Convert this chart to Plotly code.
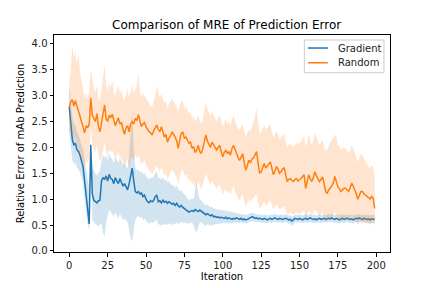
import plotly.graph_objects as go

iterations = list(range(200))
series_names = ["Gradient", "Random"]

gradient_mean = [
    2.78, 2.45, 2.15, 2.05, 2.08, 1.95, 1.92, 1.85, 1.72, 1.62,
    1.35, 1.05, 0.75, 0.52, 2.05, 1.10, 0.98, 0.95, 0.93, 0.97,
    0.98, 1.35, 1.42, 1.38, 1.45, 1.35, 1.48, 1.40, 1.38, 1.30,
    1.42, 1.35, 1.30, 1.40, 1.32, 1.25, 1.30, 1.22, 1.18, 1.30,
    1.45, 1.60, 1.35, 1.15, 1.12, 1.15, 1.10, 1.12, 1.05, 1.08,
    1.00, 0.95, 0.93, 0.97, 0.95, 0.98, 1.05, 1.08, 0.95, 0.97,
    0.93, 0.98, 0.94, 0.96, 0.92, 0.95, 0.93, 0.90, 0.92, 0.88,
    0.92, 0.87, 0.85, 0.88, 0.84, 0.82, 0.80, 0.78, 0.75, 0.77,
    0.78, 0.76, 0.80, 0.78, 0.76, 0.79, 0.77, 0.75, 0.72, 0.70,
    0.72, 0.69, 0.68, 0.70, 0.66, 0.67, 0.65, 0.66, 0.64, 0.65,
    0.64, 0.63, 0.65, 0.62, 0.64, 0.63, 0.61, 0.63, 0.62, 0.64,
    0.62, 0.61, 0.63, 0.60, 0.62, 0.60, 0.61, 0.63, 0.64, 0.66,
    0.65, 0.63, 0.64, 0.62, 0.63, 0.62, 0.61, 0.63, 0.62, 0.60,
    0.62, 0.63, 0.61, 0.62, 0.64, 0.62, 0.61, 0.63, 0.62, 0.61,
    0.62, 0.63, 0.62, 0.60, 0.61, 0.58, 0.60, 0.63, 0.62, 0.61,
    0.63, 0.62, 0.60, 0.62, 0.63, 0.61, 0.62, 0.64, 0.62, 0.61,
    0.62, 0.60, 0.62, 0.63, 0.61, 0.62, 0.63, 0.61, 0.62, 0.63,
    0.62, 0.64, 0.62, 0.61, 0.63, 0.62, 0.60, 0.62, 0.63, 0.61,
    0.62, 0.63, 0.62, 0.61, 0.62, 0.60, 0.62, 0.63, 0.62, 0.64,
    0.62, 0.61, 0.63, 0.62, 0.61, 0.62, 0.60, 0.62, 0.61, 0.62,
]

gradient_upper = [
    3.20, 2.90, 2.60, 2.45, 2.43, 2.30, 2.25, 2.15, 2.05, 1.95,
    1.75, 1.55, 1.35, 1.20, 2.10, 1.65, 1.55, 1.50, 1.45, 1.50,
    1.55, 1.75, 1.85, 1.80, 1.85, 1.75, 1.90, 1.80, 1.78, 1.70,
    1.82, 1.75, 1.70, 1.80, 1.72, 1.65, 1.70, 1.62, 1.60, 1.85,
    2.30, 2.70, 2.00, 1.60, 1.55, 1.58, 1.52, 1.55, 1.48, 1.50,
    1.45, 1.40, 1.38, 1.42, 1.40, 1.45, 1.52, 1.55, 1.40, 1.42,
    1.38, 1.42, 1.36, 1.38, 1.32, 1.35, 1.30, 1.26, 1.28, 1.22,
    1.26, 1.20, 1.15, 1.18, 1.12, 1.10, 1.06, 1.03, 0.98, 1.00,
    1.02, 1.00, 1.15, 1.32, 1.10, 1.00, 0.97, 0.94, 0.90, 0.88,
    0.90, 0.86, 0.84, 0.86, 0.82, 0.82, 0.80, 0.81, 0.78, 0.80,
    0.78, 0.79, 0.76, 0.78, 0.75, 0.77, 0.74, 0.76, 0.73, 0.74,
    0.72, 0.71, 0.72, 0.70, 0.71, 0.69, 0.70, 0.71, 0.72, 0.74,
    0.73, 0.72, 0.71, 0.70, 0.71, 0.70, 0.69, 0.70, 0.70, 0.68,
    0.70, 0.71, 0.69, 0.70, 0.72, 0.70, 0.69, 0.70, 0.70, 0.69,
    0.70, 0.71, 0.70, 0.68, 0.69, 0.66, 0.68, 0.70, 0.70, 0.69,
    0.71, 0.70, 0.68, 0.70, 0.71, 0.69, 0.70, 0.72, 0.70, 0.69,
    0.70, 0.68, 0.70, 0.71, 0.69, 0.70, 0.71, 0.69, 0.70, 0.71,
    0.70, 0.72, 0.70, 0.69, 0.71, 0.70, 0.68, 0.70, 0.71, 0.69,
    0.70, 0.71, 0.70, 0.69, 0.70, 0.68, 0.70, 0.71, 0.70, 0.72,
    0.70, 0.69, 0.71, 0.70, 0.69, 0.70, 0.68, 0.70, 0.69, 0.70,
]

gradient_lower = [
    2.30, 2.00, 1.75, 1.68, 1.70, 1.60, 1.58, 1.52, 1.42, 1.30,
    1.00, 0.70, 0.50, 0.42, 1.95, 0.60, 0.55, 0.52, 0.50, 0.48,
    0.50, 0.55, 0.35, 0.28, 0.55, 0.70, 0.80, 0.75, 0.72, 0.65,
    0.75, 0.68, 0.62, 0.72, 0.66, 0.60, 0.62, 0.58, 0.56, 0.40,
    0.25, 0.18, 0.45, 0.60, 0.65, 0.68, 0.64, 0.66, 0.60, 0.62,
    0.58, 0.55, 0.52, 0.56, 0.54, 0.55, 0.58, 0.60, 0.50, 0.52,
    0.48, 0.52, 0.50, 0.52, 0.50, 0.53, 0.52, 0.50, 0.53, 0.52,
    0.55, 0.52, 0.54, 0.56, 0.55, 0.54, 0.55, 0.54, 0.52, 0.55,
    0.54, 0.50, 0.40, 0.36, 0.45, 0.55, 0.55, 0.53, 0.50, 0.48,
    0.52, 0.50, 0.48, 0.50, 0.50, 0.52, 0.52, 0.53, 0.52, 0.53,
    0.54, 0.53, 0.55, 0.52, 0.54, 0.54, 0.53, 0.55, 0.54, 0.56,
    0.55, 0.54, 0.56, 0.53, 0.55, 0.53, 0.54, 0.56, 0.57, 0.58,
    0.57, 0.56, 0.57, 0.55, 0.56, 0.55, 0.54, 0.56, 0.55, 0.53,
    0.55, 0.56, 0.54, 0.55, 0.57, 0.55, 0.54, 0.56, 0.55, 0.54,
    0.55, 0.56, 0.55, 0.52, 0.53, 0.48, 0.50, 0.55, 0.55, 0.54,
    0.56, 0.55, 0.53, 0.55, 0.56, 0.54, 0.55, 0.57, 0.55, 0.54,
    0.55, 0.53, 0.55, 0.56, 0.54, 0.55, 0.56, 0.54, 0.55, 0.56,
    0.55, 0.57, 0.55, 0.54, 0.56, 0.55, 0.53, 0.55, 0.56, 0.54,
    0.55, 0.56, 0.55, 0.54, 0.55, 0.52, 0.55, 0.56, 0.55, 0.57,
    0.55, 0.54, 0.56, 0.55, 0.54, 0.55, 0.53, 0.55, 0.54, 0.55,
]

random_mean = [
    2.78, 2.88, 2.92, 2.80, 2.90, 2.82, 2.70, 2.60, 2.50, 2.35,
    2.28, 2.42, 2.38, 2.45, 2.95, 2.62, 2.55, 2.50, 2.65, 2.40,
    2.30, 2.45, 2.60, 2.82, 2.55, 2.50, 2.62, 2.58, 2.64, 2.50,
    2.42, 2.50, 2.57, 2.45, 2.48, 2.35, 2.25, 2.38, 2.42, 2.30,
    2.45, 2.50, 2.45, 2.56, 2.52, 2.63, 2.50, 2.40, 2.45, 2.48,
    2.40, 2.34, 2.30, 2.28, 2.24, 2.32, 2.38, 2.43, 2.35, 2.30,
    2.40, 2.32, 2.20, 2.25, 2.10, 2.18, 2.22, 2.30, 2.25, 2.20,
    2.12, 1.98, 2.15, 2.27, 2.30, 2.17, 2.20, 2.14, 2.08, 2.10,
    1.98, 2.02, 1.90, 1.95, 2.04, 1.92, 1.88, 1.98, 2.10, 2.24,
    2.12, 2.04, 2.00, 2.10, 2.05, 1.98, 1.95, 2.00, 2.04, 1.92,
    1.82, 1.90, 1.95, 1.88, 1.92, 1.85, 1.98, 2.04, 1.95, 1.85,
    1.80, 1.75, 1.82, 1.88, 1.70, 1.56, 1.65, 1.75, 1.70, 1.78,
    1.79, 1.85, 1.92, 1.70, 1.50, 1.53, 1.62, 1.69, 1.60, 1.63,
    1.68, 1.72, 1.58, 1.47, 1.55, 1.63, 1.58, 1.50, 1.53, 1.58,
    1.60, 1.45, 1.34, 1.38, 1.40, 1.36, 1.34, 1.38, 1.40, 1.35,
    1.37, 1.40, 1.44, 1.47, 1.21, 1.35, 1.47, 1.40, 1.34, 1.42,
    1.53, 1.45, 1.38, 1.34, 1.38, 1.43, 1.30, 1.15, 1.11, 1.18,
    1.21, 1.26, 1.31, 1.44, 1.35, 1.24, 1.20, 1.15, 1.18, 1.21,
    1.21, 1.18, 1.15, 1.22, 1.31, 1.25, 1.18, 1.10, 1.00, 1.08,
    1.15, 1.15, 1.10, 1.08, 1.05, 1.02, 1.00, 1.05, 1.02, 0.82,
]

random_upper = [
    3.27, 3.50, 3.98, 3.70, 3.85, 3.60, 3.80, 3.45, 3.30, 3.10,
    2.95, 3.05, 2.95, 3.10, 3.50, 3.35, 3.15, 3.05, 3.20, 2.95,
    2.90, 3.10, 3.30, 3.60, 3.20, 3.10, 3.25, 3.15, 3.30, 3.05,
    3.00, 3.10, 3.20, 3.05, 3.10, 2.95, 2.90, 3.00, 3.15, 2.95,
    3.10, 3.20, 3.05, 3.15, 3.20, 3.45, 3.10, 2.95, 3.05, 3.00,
    2.95, 2.90, 2.85, 2.80, 2.78, 2.90, 3.00, 3.20, 3.05, 2.95,
    3.05, 2.95, 2.85, 2.90, 2.75, 2.85, 2.88, 2.95, 2.90, 2.85,
    2.78, 2.70, 2.80, 2.88, 2.90, 2.75, 2.78, 2.70, 2.65, 2.68,
    2.55, 2.60, 2.50, 2.55, 2.62, 2.50, 2.45, 2.55, 2.70, 2.88,
    2.75, 2.65, 2.60, 2.70, 2.62, 2.55, 2.50, 2.58, 2.62, 2.50,
    2.40, 2.48, 2.55, 2.45, 2.50, 2.42, 2.55, 2.62, 2.52, 2.42,
    2.38, 2.32, 2.40, 2.45, 2.30, 2.20, 2.28, 2.35, 2.30, 2.40,
    2.45, 2.60, 2.75, 2.45, 2.25, 2.30, 2.38, 2.43, 2.35, 2.38,
    2.42, 2.45, 2.30, 2.20, 2.25, 2.30, 2.25, 2.15, 2.20, 2.25,
    2.28, 2.10, 2.00, 2.05, 2.08, 2.02, 2.00, 2.05, 2.10, 2.05,
    2.08, 2.12, 2.18, 2.22, 2.00, 2.10, 2.25, 2.15, 2.05, 2.15,
    2.28, 2.20, 2.12, 2.05, 2.10, 2.15, 2.00, 1.95, 1.95, 2.05,
    2.10, 2.15, 2.18, 2.25, 2.20, 2.05, 2.00, 1.95, 1.98, 2.00,
    1.98, 1.92, 1.88, 1.95, 2.05, 1.98, 1.90, 1.82, 1.72, 1.80,
    1.88, 1.85, 1.78, 1.72, 1.68, 1.62, 1.60, 1.65, 1.62, 1.45,
]

random_lower = [
    2.20, 2.35, 2.25, 2.15, 2.20, 2.05, 1.95, 1.85, 1.75, 1.65,
    1.60, 1.75, 1.70, 1.80, 2.40, 2.05, 1.95, 1.90, 2.05, 1.85,
    1.72, 1.80, 1.95, 2.10, 1.90, 1.85, 1.95, 1.90, 1.95, 1.85,
    1.78, 1.85, 1.90, 1.80, 1.82, 1.70, 1.60, 1.72, 1.75, 1.62,
    1.78, 1.80, 1.75, 1.85, 1.80, 1.85, 1.78, 1.68, 1.70, 1.75,
    1.65, 1.60, 1.55, 1.52, 1.48, 1.55, 1.60, 1.65, 1.58, 1.52,
    1.62, 1.55, 1.45, 1.50, 1.38, 1.45, 1.50, 1.58, 1.52, 1.48,
    1.42, 1.28, 1.40, 1.55, 1.58, 1.45, 1.48, 1.42, 1.35, 1.38,
    1.28, 1.32, 1.20, 1.25, 1.35, 1.25, 1.20, 1.28, 1.38, 1.50,
    1.40, 1.32, 1.28, 1.35, 1.30, 1.25, 1.20, 1.25, 1.28, 1.18,
    1.08, 1.15, 1.20, 1.12, 1.15, 1.10, 1.20, 1.25, 1.15, 1.08,
    1.02, 0.98, 1.05, 1.10, 0.95, 0.85, 0.92, 1.00, 0.95, 1.00,
    1.02, 1.05, 1.10, 0.95, 0.82, 0.85, 0.90, 0.95, 0.88, 0.90,
    0.95, 0.98, 0.88, 0.80, 0.85, 0.90, 0.85, 0.80, 0.82, 0.85,
    0.88, 0.78, 0.70, 0.72, 0.75, 0.72, 0.70, 0.73, 0.75, 0.72,
    0.72, 0.74, 0.76, 0.78, 0.60, 0.70, 0.78, 0.74, 0.70, 0.74,
    0.80, 0.76, 0.72, 0.68, 0.72, 0.75, 0.66, 0.58, 0.58, 0.62,
    0.64, 0.66, 0.70, 0.75, 0.70, 0.64, 0.62, 0.58, 0.60, 0.62,
    0.62, 0.60, 0.58, 0.62, 0.68, 0.64, 0.60, 0.55, 0.50, 0.55,
    0.58, 0.58, 0.56, 0.55, 0.54, 0.52, 0.52, 0.55, 0.54, 0.48,
]

x_ticks = [0, 25, 50, 75, 100, 125, 150, 175, 200]
y_ticks = [0.0, 0.5, 1.0, 1.5, 2.0, 2.5, 3.0, 3.5, 4.0]

BLUE = "#1f77b4"
ORANGE = "#ff7f0e"

fig = go.Figure()

def add_band(lower, upper, fill):
    fig.add_trace(go.Scatter(x=iterations, y=lower, mode="lines",
                             line=dict(width=0), showlegend=False,
                             hoverinfo="skip"))
    fig.add_trace(go.Scatter(x=iterations, y=upper, mode="lines",
                             line=dict(width=0), fill="tonexty",
                             fillcolor=fill, showlegend=False,
                             hoverinfo="skip"))

add_band(gradient_lower, gradient_upper, "rgba(31,119,180,0.2)")
fig.add_trace(go.Scatter(x=iterations, y=gradient_mean, mode="lines",
                         name=series_names[0], showlegend=False,
                         line=dict(color=BLUE, width=1.5)))
add_band(random_lower, random_upper, "rgba(255,127,14,0.2)")
fig.add_trace(go.Scatter(x=iterations, y=random_mean, mode="lines",
                         name=series_names[1], showlegend=False,
                         line=dict(color=ORANGE, width=1.5)))

# matplotlib-style legend box (paper coordinates)
shapes = [dict(type="rect", xref="paper", yref="paper",
               x0=0.745, x1=0.982, y0=0.826, y1=0.977,
               line=dict(color="#cccccc", width=1),
               fillcolor="rgba(255,255,255,0.8)", layer="above")]
annotations = []
for name, color, yy in zip(series_names, [BLUE, ORANGE], [0.940, 0.872]):
    shapes.append(dict(type="line", xref="paper", yref="paper",
                       x0=0.756, x1=0.815, y0=yy, y1=yy,
                       line=dict(color=color, width=1.5), layer="above"))
    annotations.append(dict(text=name, xref="paper", yref="paper",
                            x=0.839, y=yy, xanchor="left", yanchor="middle",
                            showarrow=False,
                            font=dict(size=10, color="#222222")))

axis_common = dict(showline=True, linecolor="black", linewidth=1,
                   mirror=True, ticks="outside", ticklen=3.5,
                   tickcolor="black", showgrid=False, zeroline=False,
                   automargin=False,
                   tickfont=dict(size=10, color="#222222"))

fig.update_layout(
    width=432, height=288,
    margin=dict(l=54, r=42, t=35, b=36),
    paper_bgcolor="white", plot_bgcolor="white",
    font=dict(family="DejaVu Sans", size=10, color="black"),
    title=dict(text="Comparison of MRE of Prediction Error",
               font=dict(size=12, color="black"),
               x=(54 + 390) / 2 / 432, xref="paper", xanchor="center",
               y=1 - 25 / 288, yanchor="middle", automargin=False),
    xaxis=dict(range=[-9.95, 208.95], tickvals=x_ticks,
               ticktext=[str(v) for v in x_ticks],
               title=dict(text="Iteration", font=dict(size=10), standoff=3),
               **axis_common),
    yaxis=dict(range=[-0.02, 4.17], tickvals=y_ticks,
               ticktext=[f"{v:.1f}" for v in y_ticks],
               title=dict(text="Relative Error of mAb Prediction",
                          font=dict(size=10), standoff=5),
               **axis_common),
    shapes=shapes,
    annotations=annotations,
    showlegend=False,
)

fig.write_html("out.html",
               config={"displayModeBar": False},
               post_script="document.body.style.margin='0';"
                           "document.body.style.padding='0';")
